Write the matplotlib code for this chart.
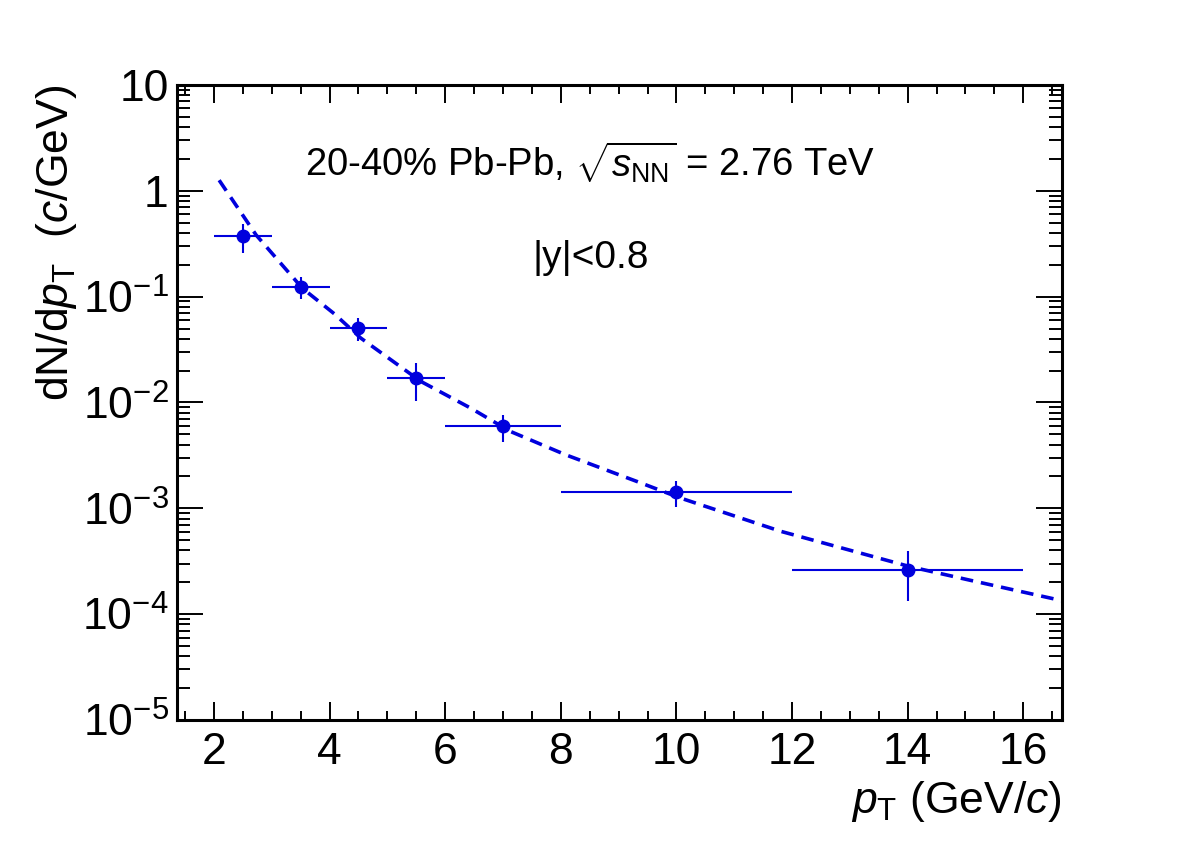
import matplotlib
matplotlib.use("Agg")
import matplotlib.pyplot as plt
from matplotlib.ticker import LogLocator, MultipleLocator, NullFormatter

pt = [2.5, 3.5, 4.5, 5.5, 7.0, 10.0, 14.0]
pt_err = [0.5, 0.5, 0.5, 0.5, 1.0, 2.0, 2.0]
yield_vals = [0.374, 0.124, 0.0503, 0.0170, 0.00594, 0.00142, 0.000262]
yield_err = [0.115, 0.030, 0.012, 0.0067, 0.0017, 0.0004, 0.00013]

# fit curve
fit_pt = [2.09, 2.73, 3.53, 4.08, 4.54, 5.58, 6.44, 7.13, 8.08, 9.38,
          10.07, 11.80, 14.05, 15.08, 16.67]
fit_y = [1.26, 0.382, 0.120, 0.0690, 0.0406, 0.0158, 0.00885, 0.00532,
         0.00321, 0.00174, 0.00125, 0.000607, 0.000280, 0.000209, 0.000134]

y_ticks = [1e-5, 1e-4, 1e-3, 1e-2, 1e-1, 1, 10]
y_ticklabels = [r"$10^{-5}$", r"$10^{-4}$", r"$10^{-3}$", r"$10^{-2}$",
                r"$10^{-1}$", "1", "10"]

plt.rcParams["font.family"] = ["Liberation Sans", "DejaVu Sans"]
plt.rcParams["mathtext.fontset"] = "custom"
plt.rcParams["mathtext.rm"] = "Liberation Sans"
plt.rcParams["mathtext.it"] = "Liberation Sans:italic"
plt.rcParams["mathtext.bf"] = "Liberation Sans:bold"

fig = plt.figure(figsize=(11.82, 8.5), dpi=100)
ax = fig.add_axes([0.1497, 0.153, 0.7488, 0.747])

color = "#0000dd"
ax.plot(fit_pt, fit_y, color=color, lw=2.6, linestyle=(0, (3.5, 2.2)))
ax.errorbar(pt, yield_vals, xerr=pt_err, yerr=yield_err, fmt="o",
            color=color, ms=9, elinewidth=1.5, capsize=0)

ax.set_yscale("log")
ax.set_xlim(1.36, 16.67)
ax.set_ylim(1e-5, 10)

ax.set_yticks(y_ticks)
ax.set_yticklabels(y_ticklabels)
ax.yaxis.set_minor_locator(LogLocator(base=10, subs=range(2, 10), numticks=20))
ax.yaxis.set_minor_formatter(NullFormatter())
ax.xaxis.set_major_locator(MultipleLocator(2))
ax.xaxis.set_minor_locator(MultipleLocator(0.5))

ax.tick_params(which="both", direction="in", top=True, right=True, width=1.4)
ax.tick_params(axis="x", which="major", length=13, labelsize=32, pad=9)
ax.tick_params(axis="x", which="minor", length=6.5)
ax.tick_params(axis="y", which="major", length=19, labelsize=32, pad=6)
ax.tick_params(axis="y", which="minor", length=9.5)
for s in ax.spines.values():
    s.set_linewidth(2.2)

ax.set_xlabel(r"$p_{\mathrm{T}}$ (GeV/$c$)", fontsize=32, loc="right", labelpad=4)
ax.set_ylabel(r"dN/d$p_{\mathrm{T}}$  ($c$/GeV)", fontsize=32, loc="top", labelpad=2)

ax.text(0.467, 0.877, r"20-40% Pb-Pb, $\sqrt{s_{\mathrm{NN}}}$ = 2.76 TeV",
        transform=ax.transAxes, ha="center", va="center", fontsize=27.5)
ax.text(0.467, 0.728, "|y|<0.8", transform=ax.transAxes,
        ha="center", va="center", fontsize=28)

fig.savefig("out.png", dpi=100)
